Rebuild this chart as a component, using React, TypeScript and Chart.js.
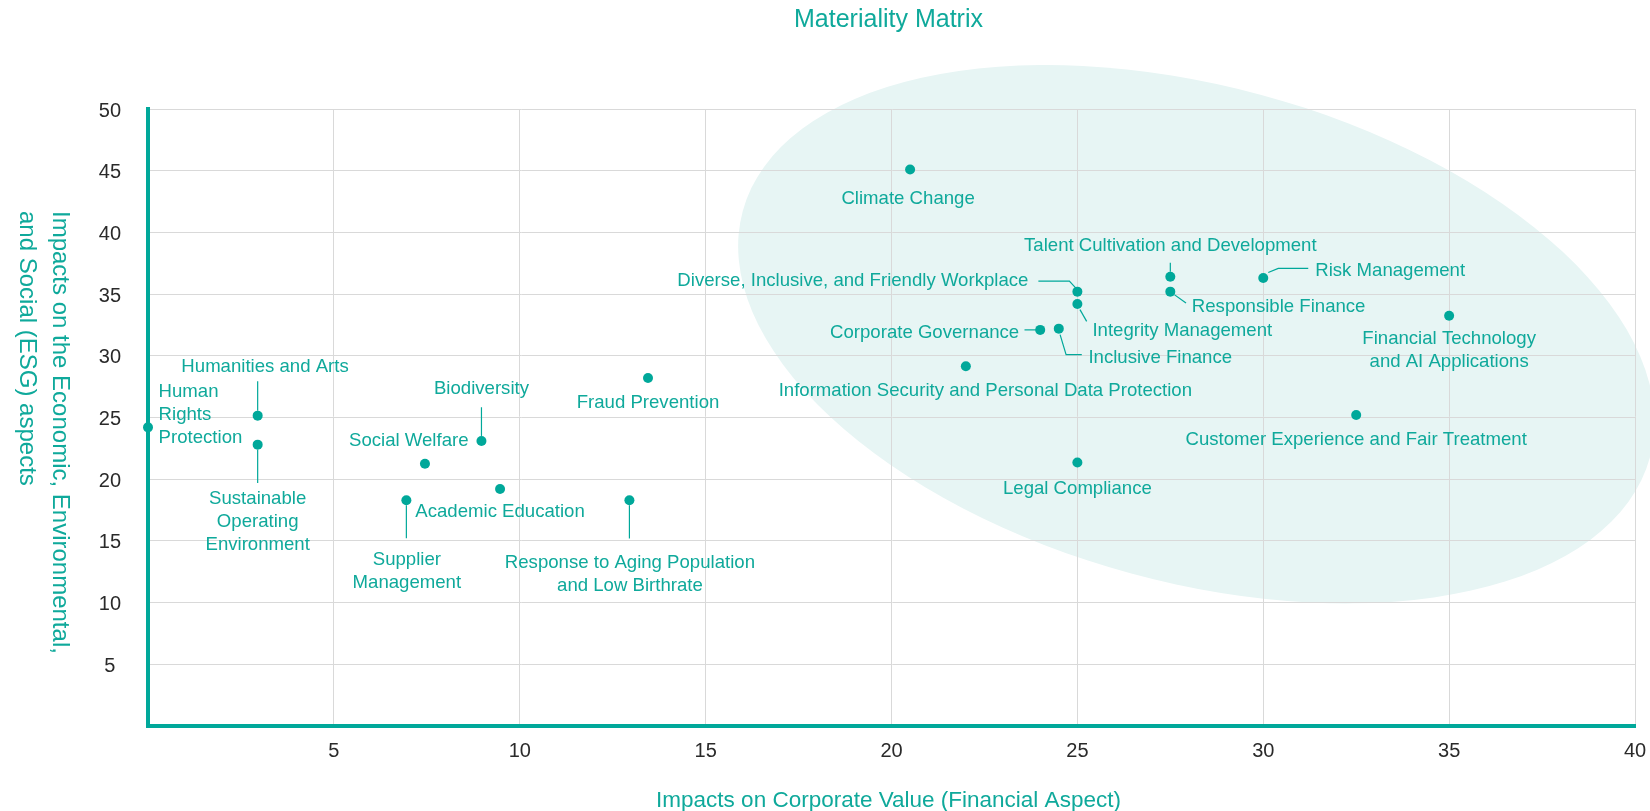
import React, { useEffect, useRef } from "react";
import { Chart, registerables } from "chart.js";

Chart.register(...registerables);

// ---------- data ----------
const CHART_TITLE = "Materiality Matrix";
const X_AXIS_TITLE = "Impacts on Corporate Value (Financial Aspect)";
const Y_AXIS_TITLE_LINES = [
  "Impacts on the Economic, Environmental,",
  "and Social (ESG) aspects",
];

const TOPICS = [
  "Climate Change",
  "Talent Cultivation and Development",
  "Risk Management",
  "Diverse, Inclusive, and Friendly Workplace",
  "Responsible Finance",
  "Integrity Management",
  "Corporate Governance",
  "Inclusive Finance",
  "Information Security and Personal Data Protection",
  "Fraud Prevention",
  "Financial Technology\nand AI Applications",
  "Customer Experience and Fair Treatment",
  "Legal Compliance",
  "Human\nRights\nProtection",
  "Humanities and Arts",
  "Sustainable\nOperating\nEnvironment",
  "Biodiversity",
  "Social Welfare",
  "Academic Education",
  "Supplier\nManagement",
  "Response to Aging Population\nand Low Birthrate",
];

// Impacts on Corporate Value (x)
const FINANCIAL_IMPACT = [
  20.5, 27.5, 30, 25, 27.5, 25, 24, 24.5, 22, 13.45, 35, 32.5, 25, 0, 2.95, 2.95, 8.97, 7.45, 9.47,
  6.95, 12.95,
];
// Impacts on ESG aspects (y)
const ESG_IMPACT = [
  45.1, 36.4, 36.3, 35.2, 35.2, 34.2, 32.1, 32.2, 29.15, 28.2, 33.25, 25.2, 21.35, 24.2, 25.15, 22.8,
  23.1, 21.25, 19.2, 18.3, 18.3,
];

const X_TICK_LABELS = ["", "5", "10", "15", "20", "25", "30", "35", "40"];
const Y_TICK_LABELS = ["", "5", "10", "15", "20", "25", "30", "35", "40", "45", "50"];

// ---------- layout / style (not data) ----------
const TEAL = "#00A89A";
const TEXT_TEAL = "#0FA99B";
const GRID = "#D9D9D9";
const TICK_COLOR = "#2A2A2A";
const FONT = '"Liberation Sans", Arial, Helvetica, sans-serif';
const LABEL_SIZE = 18.6;
const LABEL_LH = 22.8;
const LABEL_Y_SHIFT = 2.5;

type Lay = { dx: number; dy: number; align: CanvasTextAlign; leader?: number[][] };
const LABEL_LAYOUT: Lay[] = [
  { dx: -2, dy: 27, align: "center" },
  { dx: 0, dy: -33, align: "center", leader: [[0, -14], [0, -5]] },
  { dx: 52, dy: -10, align: "left", leader: [[5, -5.5], [15, -9.7], [45, -9.7]] },
  { dx: -49, dy: -13, align: "right", leader: [[-39, -10.6], [-8, -10.6], [-1.5, -3.5]] },
  { dx: 21.5, dy: 13, align: "left", leader: [[4, 3], [15.7, 11.3]] },
  { dx: 15, dy: 24, align: "left", leader: [[2.6, 5.7], [9.3, 17.4]] },
  { dx: -21, dy: 0, align: "right", leader: [[-15.7, 0], [-4, 0]] },
  { dx: 29.6, dy: 27, align: "left", leader: [[1.3, 6], [7.3, 26], [23, 26]] },
  { dx: 19.5, dy: 22, align: "center" },
  { dx: 0, dy: 22, align: "center" },
  { dx: 0, dy: 21, align: "center" },
  { dx: 0, dy: 22.5, align: "center" },
  { dx: 0, dy: 24, align: "center" },
  { dx: 10.6, dy: -38, align: "left" },
  { dx: 7.4, dy: -51, align: "center", leader: [[0, -34.3], [0, -5]] },
  { dx: 0, dy: 51.7, align: "center", leader: [[0, 5], [0, 38.3]] },
  { dx: 0, dy: -54.3, align: "center", leader: [[0, -33.7], [0, -5]] },
  { dx: -16.2, dy: -25.6, align: "center" },
  { dx: 0, dy: 20.7, align: "center" },
  { dx: 0.5, dy: 57.3, align: "center", leader: [[0, 5], [0, 38]] },
  { dx: 0.5, dy: 60.3, align: "center", leader: [[0, 5], [0, 38.3]] },
];

// highlight ellipse (center in data units, radii in px)
const ELLIPSE_CENTER = { x: 28.2, y: 31.75 };
const ELLIPSE_RX = 470;
const ELLIPSE_RY = 248;
const ELLIPSE_ROT = (15.2 * Math.PI) / 180;

const ellipsePlugin = {
  id: "ellipseBg",
  beforeDraw(chart: any) {
    const { ctx, scales } = chart;
    const cx = scales.x.getPixelForValue(ELLIPSE_CENTER.x);
    const cy = scales.y.getPixelForValue(ELLIPSE_CENTER.y);
    ctx.save();
    ctx.fillStyle = "#E7F5F4";
    ctx.beginPath();
    ctx.ellipse(cx, cy, ELLIPSE_RX, ELLIPSE_RY, ELLIPSE_ROT, 0, Math.PI * 2);
    ctx.fill();
    ctx.restore();
  },
};

const leaderPlugin = {
  id: "leaders",
  beforeDatasetsDraw(chart: any) {
    const { ctx } = chart;
    const meta = chart.getDatasetMeta(0);
    ctx.save();
    ctx.strokeStyle = TEAL;
    ctx.lineWidth = 1.2;
    meta.data.forEach((pt: any, i: number) => {
      const lay = LABEL_LAYOUT[i];
      if (!lay || !lay.leader) return;
      ctx.beginPath();
      lay.leader.forEach(([dx, dy], k) => {
        if (k === 0) ctx.moveTo(pt.x + dx, pt.y + dy);
        else ctx.lineTo(pt.x + dx, pt.y + dy);
      });
      ctx.stroke();
    });
    ctx.restore();
  },
};

const labelPlugin = {
  id: "labels",
  afterDatasetsDraw(chart: any) {
    const { ctx } = chart;
    const meta = chart.getDatasetMeta(0);
    ctx.save();
    ctx.fillStyle = TEXT_TEAL;
    ctx.font = `${LABEL_SIZE}px ${FONT}`;
    ctx.textBaseline = "middle";
    meta.data.forEach((pt: any, i: number) => {
      const lay = LABEL_LAYOUT[i];
      const lines = TOPICS[i].split("\n");
      ctx.textAlign = lay.align;
      lines.forEach((ln, k) => {
        ctx.fillText(ln, pt.x + lay.dx, pt.y + lay.dy + LABEL_Y_SHIFT + k * LABEL_LH);
      });
    });
    ctx.restore();
  },
};

const titlesPlugin = {
  id: "titles",
  afterDraw(chart: any) {
    const { ctx, chartArea } = chart;
    const midX = (chartArea.left + chartArea.right) / 2 - 3;
    ctx.save();
    ctx.fillStyle = TEXT_TEAL;
    ctx.textBaseline = "middle";
    ctx.textAlign = "center";
    ctx.font = `25px ${FONT}`;
    ctx.fillText(CHART_TITLE, midX, 20);
    ctx.font = `22.5px ${FONT}`;
    ctx.fillText(X_AXIS_TITLE, midX, 801);
    ctx.font = `24px ${FONT}`;
    ctx.textAlign = "left";
    const xs = [60, 27];
    Y_AXIS_TITLE_LINES.forEach((ln, k) => {
      ctx.save();
      ctx.translate(xs[k], 211);
      ctx.rotate(Math.PI / 2);
      ctx.fillText(ln, 0, 0);
      ctx.restore();
    });
    ctx.restore();
  },
};

export default function App() {
  const ref = useRef<HTMLCanvasElement>(null);
  useEffect(() => {
    document.body.style.margin = "0";
    const canvas = ref.current;
    if (!canvas) return;
    const chart = new Chart(canvas, {
      type: "scatter",
      data: {
        datasets: [
          {
            label: "Material topics",
            data: FINANCIAL_IMPACT.map((x, i) => ({ x, y: ESG_IMPACT[i] })),
            backgroundColor: TEAL,
            borderWidth: 0,
            pointRadius: 5,
            pointHoverRadius: 5,
            clip: false as any,
          },
        ],
      },
      options: {
        animation: false,
        responsive: false,
        events: [],
        layout: { padding: { left: 88, top: 109, right: 15, bottom: 35 } },
        plugins: {
          legend: { display: false },
          title: { display: false },
          tooltip: { enabled: false },
        },
        scales: {
          x: {
            type: "linear",
            min: 0,
            max: 40,
            afterFit: (s: any) => {
              s.height = 50;
            },
            grid: {
              color: GRID,
              lineWidth: 1,
              drawTicks: true,
              tickLength: 13,
              tickColor: "rgba(0,0,0,0)",
            },
            border: { color: TEAL, width: 4 },
            ticks: {
              stepSize: 5,
              padding: 0,
              color: TICK_COLOR,
              font: { size: 20, family: FONT },
              callback: (_v: any, i: number) => X_TICK_LABELS[i],
            },
          },
          y: {
            type: "linear",
            min: 0,
            max: 50,
            afterFit: (s: any) => {
              s.width = 60;
            },
            grid: { color: GRID, lineWidth: 1, drawTicks: false },
            border: { color: TEAL, width: 4 },
            ticks: {
              stepSize: 5,
              padding: 27,
              labelOffset: 2,
              crossAlign: "center",
              color: TICK_COLOR,
              font: { size: 20, family: FONT },
              callback: (_v: any, i: number) => Y_TICK_LABELS[i],
            },
          },
        },
      },
      plugins: [ellipsePlugin, leaderPlugin, labelPlugin, titlesPlugin],
    });
    return () => chart.destroy();
  }, []);

  return (
    <div
      style={{
        position: "fixed",
        left: 0,
        top: 0,
        width: 1650,
        height: 811,
        background: "#ffffff",
      }}
    >
      <canvas ref={ref} width={1650} height={811} style={{ display: "block" }} />
    </div>
  );
}
